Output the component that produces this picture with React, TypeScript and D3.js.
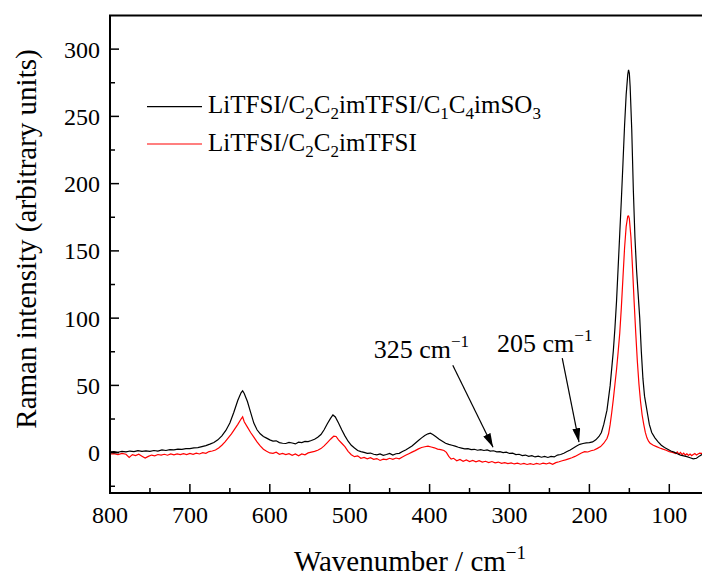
import React from "react";
import * as d3 from "d3";

// [wavenumber, intensity]
const blackSpectrum: [number, number][] = [
[800,0.5],[795,0.8],[790,0.3],[785,0.9],[780,0.6],[775,1.2],[770,0.8],[765,1.5],[760,0.9],[755,1.3],[750,1.0],[745,1.6],[740,1.2],[735,2.0],[730,1.6],[725,2.2],[720,2.0],[715,2.6],[710,2.4],[705,3.0],[700,3.0],[695,3.6],[690,3.8],[685,4.5],[680,5.2],[675,6.3],[670,7.5],[665,9.5],[660,12.5],[655,16.5],[650,22],[645,30],[640,39],[636,44.5],[634,46],[632,44],[628,38],[624,30],[620,22],[616,17],[612,14],[608,12],[604,10.8],[600,9.5],[596,8.6],[592,8.8],[588,7.5],[584,7.0],[580,6.8],[576,7.6],[572,7.2],[568,6.5],[564,7.8],[560,7.5],[556,8.4],[552,8.2],[548,9.0],[544,10.0],[540,11.5],[536,13.5],[532,17],[528,21.5],[524,25.5],[521,28],[518,26.5],[514,22],[510,17],[506,12.5],[502,8.5],[498,5.5],[494,3.5],[490,1.6],[486,0.8],[482,0.2],[478,-0.5],[474,-0.3],[470,-1.2],[466,-1.6],[462,-1.0],[458,-2.0],[454,-1.4],[450,-0.6],[446,-1.8],[442,-0.8],[438,-0.5],[434,0.8],[430,2.0],[426,3.5],[422,5.0],[418,7.0],[414,9.0],[410,11.0],[406,12.8],[402,14.0],[399,14.5],[396,13.5],[392,11.8],[388,10.0],[384,8.5],[380,7.0],[376,6.2],[372,5.5],[368,4.8],[364,4.0],[360,3.4],[356,2.8],[352,3.0],[348,2.2],[344,2.5],[340,1.8],[336,2.2],[332,1.6],[328,2.0],[324,1.2],[320,1.4],[316,0.6],[312,0.8],[308,0],[304,0.4],[300,-0.6],[296,-0.4],[292,-1.4],[288,-1.2],[284,-2.2],[280,-1.8],[276,-2.8],[272,-2.2],[268,-3.2],[264,-2.6],[260,-3.4],[256,-2.8],[252,-3.6],[248,-2.8],[244,-3.2],[240,-1.8],[236,-1.4],[232,-0.4],[228,0.8],[224,2.0],[220,3.5],[216,5.0],[212,6.2],[208,6.8],[204,7.2],[200,7.4],[196,8.0],[192,9.5],[188,12],[185,15],[182,21],[178,31.6],[174,50],[170,76],[168,93],[166,113],[164,138],[162,163],[160,188],[158,215],[156,243],[154,266],[152,281],[151,284.5],[150,282],[149,272],[147,240],[145,195],[143,160],[141,136],[139,118],[137,100],[135,75],[133,55],[131,42],[129,35],[127,28],[125,21],[122,15],[118,11],[114,8],[110,5.5],[106,3.8],[102,2.5],[98,1.2],[94,0.4],[90,-0.8],[86,-1.8],[82,-2.4],[78,-3.0],[74,-3.8],[70,-4.6],[66,-4.2],[62,-2.4],[58,-1.0],[54,-1.4],[50,-1.0]
];

const redSpectrum: [number, number][] = [
[800,-1],[795,-0.8],[790,-1.4],[785,-0.6],[780,-1.2],[776,-3.5],[772,-1.5],[768,-2.2],[764,-1.2],[760,-2.6],[756,-4.0],[752,-2.8],[748,-1.8],[744,-2.4],[740,-1.4],[736,-1.8],[732,-1.2],[728,-1.9],[724,-1.0],[720,-1.6],[716,-0.9],[712,-1.5],[708,-0.8],[704,-1.4],[700,-0.6],[696,-1.2],[692,-0.4],[688,-1.0],[684,0],[680,-0.5],[676,0.8],[672,1.2],[668,2.0],[664,3.5],[660,5.5],[656,8],[652,11],[648,14],[644,17.5],[640,21],[636,25],[634,26.6],[632,23],[628,19],[624,15],[620,11.5],[616,8],[612,5],[608,2.5],[604,1.0],[600,-0.2],[596,-0.5],[592,0.3],[588,-1.2],[584,-0.6],[580,-1.5],[576,-0.8],[572,-2.0],[568,-1.0],[564,-2.4],[560,-1.0],[556,-1.6],[552,-0.2],[548,0.4],[544,1.0],[540,1.8],[536,3.0],[532,5.0],[528,7.5],[524,10],[520,12.2],[517,12],[514,9.5],[510,7],[506,4.5],[502,1.0],[498,-1.5],[494,-3.0],[490,-2.4],[486,-4.2],[482,-3.6],[478,-4.6],[474,-3.8],[470,-5.0],[466,-4.4],[462,-5.8],[458,-4.8],[454,-5.2],[450,-4.2],[446,-5.0],[442,-4.0],[438,-4.6],[434,-3.2],[430,-2.0],[426,-0.8],[422,0.4],[418,1.5],[414,2.8],[410,3.8],[406,4.4],[402,4.8],[398,4.2],[394,3.6],[390,2.6],[386,2.2],[382,1.6],[379,0.2],[376,-2.8],[373,-4.8],[370,-4.2],[366,-6.0],[362,-5.0],[358,-6.4],[354,-5.4],[350,-6.6],[346,-5.8],[342,-6.8],[338,-6.0],[334,-7.0],[330,-6.4],[326,-7.4],[322,-6.6],[318,-7.6],[314,-7.0],[310,-8.0],[306,-7.4],[302,-8.2],[298,-7.6],[294,-8.4],[290,-7.8],[286,-8.6],[282,-8.0],[278,-8.8],[274,-8.2],[270,-8.8],[266,-8.0],[262,-8.6],[258,-7.8],[254,-8.4],[250,-7.6],[246,-8.6],[242,-7.4],[238,-6.8],[234,-6.0],[230,-5.4],[226,-4.6],[222,-3.8],[218,-2.8],[214,-1.5],[210,-0.2],[206,0.8],[202,0.5],[198,1.4],[194,2.0],[190,3.2],[186,4.5],[182,7],[178,10.5],[176,14],[174,21],[172,30],[170,40],[168,51],[166,62],[164,75],[162,89],[160,108],[158,130],[156,152],[154,168],[152,175.8],[151,176],[150,174],[148,160],[146,137],[144,112],[142,89],[140,68],[138,51],[136,38],[134,28],[132,21],[130,15],[128,11],[126,8.5],[124,7],[120,5.5],[116,4.5],[112,3.5],[108,2.6],[104,1.8],[100,0.8],[96,0.2],[92,-0.6],[90,0.5],[88,-1.2],[86,0.2],[84,-1.5],[82,-0.4],[80,-1.8],[78,-0.8],[76,-2.0],[74,-1.0],[72,-2.2],[70,-1.4],[68,-0.6],[66,-1.8],[64,-1.0],[62,-0.4],[60,-0.6],[56,-0.2],[52,-0.5],[50,-0.4]
];

const xMajorTicks = [800, 700, 600, 500, 400, 300, 200, 100];
const xMinorTicks = [750, 650, 550, 450, 350, 250, 150];
const yMajorTicks = [0, 50, 100, 150, 200, 250, 300];
const yMinorTicks = [-25, 25, 75, 125, 175, 225, 275];

// annotations: label, text anchor (wn, value), arrow tail (wn, value), arrow tip (wn, value)
const annotationLabels = ["325", "205"];
const annotationTextPos: [number, number][] = [[470, 70.3], [315.6, 74.7]];
const annotationTail: [number, number][] = [[371, 65], [234, 70.3]];
const annotationTip: [number, number][] = [[320.6, 4], [213, 7.8]];

const W = 702, H = 577;
const M = { left: 110, right: 709.25, top: 15.5, bottom: 493 };
const FONT = '"Liberation Serif", "Times New Roman", Times, Tinos, "DejaVu Serif", serif';

export default function App() {
  const x = d3.scaleLinear().domain([800, 50]).range([M.left, M.right]);
  const y = d3.scaleLinear().domain([-30, 325]).range([M.bottom, M.top]);
  const line = d3.line<[number, number]>().x(d => x(d[0])).y(d => y(d[1]));

  return (
    <svg width={W} height={H} style={{ position: "absolute", left: 0, top: 0, background: "#fff", fontFamily: FONT }}>
      <defs>
        <clipPath id="plot">
          <rect x={M.left} y={M.top} width={M.right - M.left} height={M.bottom - M.top} />
        </clipPath>
        <marker id="arrow" viewBox="0 0 14 8" refX="14" refY="4" markerWidth="14" markerHeight="8" markerUnits="userSpaceOnUse" orient="auto">
          <path d="M0,0 L14,4 L0,8 Z" fill="#000" />
        </marker>
      </defs>
      <g clipPath="url(#plot)">
        <path d={line(redSpectrum) || ""} fill="none" stroke="#ff0000" strokeWidth={1.2} />
        <path d={line(blackSpectrum) || ""} fill="none" stroke="#000" strokeWidth={1.2} />
      </g>
      {/* frame */}
      <line x1={M.left} x2={M.left} y1={M.top} y2={M.bottom} stroke="#000" strokeWidth={2} />
      <line x1={M.left - 1} x2={M.right} y1={M.bottom} y2={M.bottom} stroke="#000" strokeWidth={2} />
      <line x1={M.left - 1} x2={M.right} y1={M.top} y2={M.top} stroke="#000" strokeWidth={2} />
      <line x1={M.right} x2={M.right} y1={M.top} y2={M.bottom} stroke="#000" strokeWidth={2} />
      {/* x ticks */}
      {xMajorTicks.map(t => (
        <g key={"xm" + t}>
          <line x1={x(t)} x2={x(t)} y1={M.bottom} y2={M.bottom - 9} stroke="#000" strokeWidth={1.5} />
          <text x={x(t)} y={523} fontSize={24} textAnchor="middle">{t}</text>
        </g>
      ))}
      {xMinorTicks.map(t => (
        <line key={"xn" + t} x1={x(t)} x2={x(t)} y1={M.bottom} y2={M.bottom - 5} stroke="#000" strokeWidth={1.5} />
      ))}
      {/* y ticks */}
      {yMajorTicks.map(t => (
        <g key={"ym" + t}>
          <line x1={M.left} x2={M.left + 9} y1={y(t)} y2={y(t)} stroke="#000" strokeWidth={1.5} />
          <text x={100} y={y(t)} dy="0.35em" fontSize={24} textAnchor="end">{t}</text>
        </g>
      ))}
      {yMinorTicks.map(t => (
        <line key={"yn" + t} x1={M.left} x2={M.left + 5} y1={y(t)} y2={y(t)} stroke="#000" strokeWidth={1.5} />
      ))}
      {/* axis titles */}
      <text x={410} y={571} fontSize={29} textAnchor="middle">
        Wavenumber / cm<tspan fontSize={19} dy={-12}>−1</tspan>
      </text>
      <text transform="translate(36,239) rotate(-90)" fontSize={29} textAnchor="middle">
        Raman intensity (arbitrary units)
      </text>
      {/* legend */}
      <line x1={147} x2={202} y1={106.7} y2={106.7} stroke="#000" strokeWidth={1.2} />
      <text x={208} y={113.3} fontSize={25}>
        LiTFSI/C<tspan fontSize={17} dy={6}>2</tspan><tspan dy={-6}>C</tspan><tspan fontSize={17} dy={6}>2</tspan><tspan dy={-6}>imTFSI/C</tspan><tspan fontSize={17} dy={6}>1</tspan><tspan dy={-6}>C</tspan><tspan fontSize={17} dy={6}>4</tspan><tspan dy={-6}>imSO</tspan><tspan fontSize={17} dy={6}>3</tspan>
      </text>
      <line x1={147} x2={202} y1={144} y2={144} stroke="#ff0000" strokeWidth={1.2} />
      <text x={208} y={151.3} fontSize={25}>
        LiTFSI/C<tspan fontSize={17} dy={6}>2</tspan><tspan dy={-6}>C</tspan><tspan fontSize={17} dy={6}>2</tspan><tspan dy={-6}>imTFSI</tspan>
      </text>
      {/* annotations */}
      {annotationLabels.map((lab, i) => (
        <g key={"a" + i}>
          <text x={x(annotationTextPos[i][0])} y={y(annotationTextPos[i][1])} fontSize={26}>
            {lab} cm<tspan fontSize={17} dy={-11}>−1</tspan>
          </text>
          <line x1={x(annotationTail[i][0])} y1={y(annotationTail[i][1])} x2={x(annotationTip[i][0])} y2={y(annotationTip[i][1])}
            stroke="#000" strokeWidth={1.2} markerEnd="url(#arrow)" />
        </g>
      ))}
    </svg>
  );
}
